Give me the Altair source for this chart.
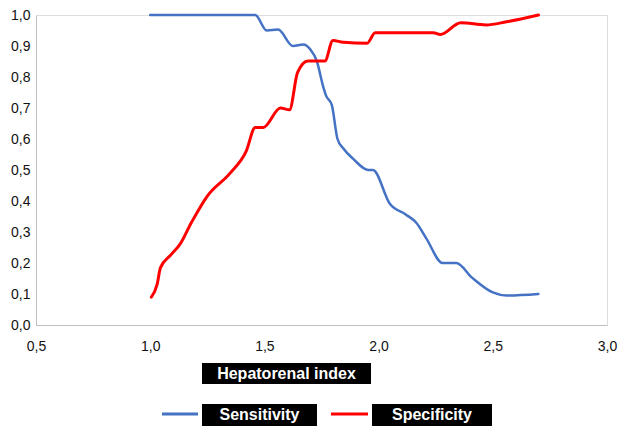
import altair as alt
import pandas as pd

# ---- data ----
sens_x = [1.00, 1.46, 1.51, 1.56, 1.625, 1.67, 1.70, 1.73, 1.757, 1.77, 1.795, 1.82, 1.845, 1.89,
          1.955, 1.975, 2.05, 2.12, 2.165, 2.21, 2.28, 2.34, 2.41, 2.50, 2.56, 2.70]
sens_y = [1.00, 1.00, 0.95, 0.953, 0.90, 0.905, 0.89, 0.85, 0.77, 0.74, 0.71, 0.60, 0.57, 0.535,
          0.50, 0.50, 0.39, 0.356, 0.33, 0.278, 0.20, 0.20, 0.152, 0.105, 0.095, 0.10]

spec_x = [1.005, 1.03, 1.045, 1.09, 1.13, 1.18, 1.25, 1.35, 1.42, 1.46, 1.495, 1.57, 1.61, 1.645,
          1.69, 1.735, 1.765, 1.80, 1.845, 1.95, 1.985, 2.24, 2.27, 2.36, 2.47, 2.56, 2.70]
spec_y = [0.09, 0.13, 0.185, 0.226, 0.26, 0.33, 0.416, 0.49, 0.56, 0.637, 0.637, 0.70, 0.694, 0.814,
          0.852, 0.852, 0.852, 0.918, 0.912, 0.909, 0.943, 0.943, 0.937, 0.975, 0.968, 0.978, 1.0]

series = ["Sensitivity", "Specificity"]
colors = ["#4472C4", "#FF0000"]
x_ticks = [0.5, 1.0, 1.5, 2.0, 2.5, 3.0]
y_ticks = [0.0, 0.1, 0.2, 0.3, 0.4, 0.5, 0.6, 0.7, 0.8, 0.9, 1.0]
x_title = "Hepatorenal index"

FONT = "Liberation Sans"
label_expr = "replace(format(datum.value, '.1f'), '.', ',')"

sens_df = pd.DataFrame({"x": sens_x, "y": sens_y, "s": series[0]})
spec_df = pd.DataFrame({"x": spec_x, "y": spec_y, "s": series[1]})

xaxis = alt.Axis(values=x_ticks, title=None, grid=False, ticks=False,
                 domainColor="#BFBFBF", domainWidth=1, labelExpr=label_expr,
                 labelFont=FONT, labelFontSize=14, labelColor="#111111",
                 labelPadding=14, labelFlush=False, labelOverlap=False)
yaxis = alt.Axis(values=y_ticks, title=None, grid=False, ticks=False,
                 domainColor="#BFBFBF", domainWidth=1, labelExpr=label_expr,
                 labelFont=FONT, labelFontSize=14, labelColor="#111111",
                 labelPadding=6, labelFlush=False, labelOverlap=False, tickCount=11)
xscale = alt.Scale(domain=[0.5, 3.0], nice=False, zero=False)
yscale = alt.Scale(domain=[0, 1], nice=False)

def xe():
    return alt.X("x:Q", scale=xscale, axis=xaxis)

def ye():
    return alt.Y("y:Q", scale=yscale, axis=yaxis)

sens = alt.Chart(sens_df).mark_line(interpolate="monotone", color=colors[0], strokeWidth=2.5,
                                    strokeCap="round").encode(x=xe(), y=ye())
spec = alt.Chart(spec_df).mark_line(interpolate="monotone", color=colors[1], strokeWidth=3,
                                    strokeCap="round").encode(x=xe(), y=ye())

one = pd.DataFrame({"t": [x_title]})
title_box = alt.Chart(one).mark_rect(color="black").encode(
    x=alt.value(166), x2=alt.value(335), y=alt.value(348), y2=alt.value(369))
title_txt = alt.Chart(one).mark_text(color="white", font=FONT, fontSize=16, fontWeight="bold",
                                     align="center", baseline="middle").encode(
    x=alt.value(250.5), y=alt.value(359), text="t:N")

leg = pd.DataFrame({"s": series, "c": colors})
leg1 = leg.iloc[[0]]
leg2 = leg.iloc[[1]]

def legend_item(df, lx1, lx2, bx1, bx2, color):
    ln = alt.Chart(df).mark_rule(color=color, strokeWidth=3).encode(
        x=alt.value(lx1), x2=alt.value(lx2), y=alt.value(399))
    bx = alt.Chart(df).mark_rect(color="black").encode(
        x=alt.value(bx1), x2=alt.value(bx2), y=alt.value(389), y2=alt.value(413))
    tx = alt.Chart(df).mark_text(color="white", font=FONT, fontSize=16, fontWeight="bold",
                                 align="center", baseline="middle").encode(
        x=alt.value((bx1 + bx2) / 2), y=alt.value(400), text="s:N")
    return [ln, bx, tx]

layers = [sens, spec, title_box, title_txt]
layers += legend_item(leg1, 126, 162, 166, 281, colors[0])
layers += legend_item(leg2, 295, 332, 336, 456, colors[1])

chart = alt.layer(*layers).properties(
    width=571, height=310, autosize="none",
    padding={"left": 28, "top": 7, "right": 21, "bottom": 101},
).configure_view(stroke=None).configure_axis(labelOverlap=False).configure(background="white")

chart.save("out.html", embed_options={"renderer": "svg", "actions": False})
